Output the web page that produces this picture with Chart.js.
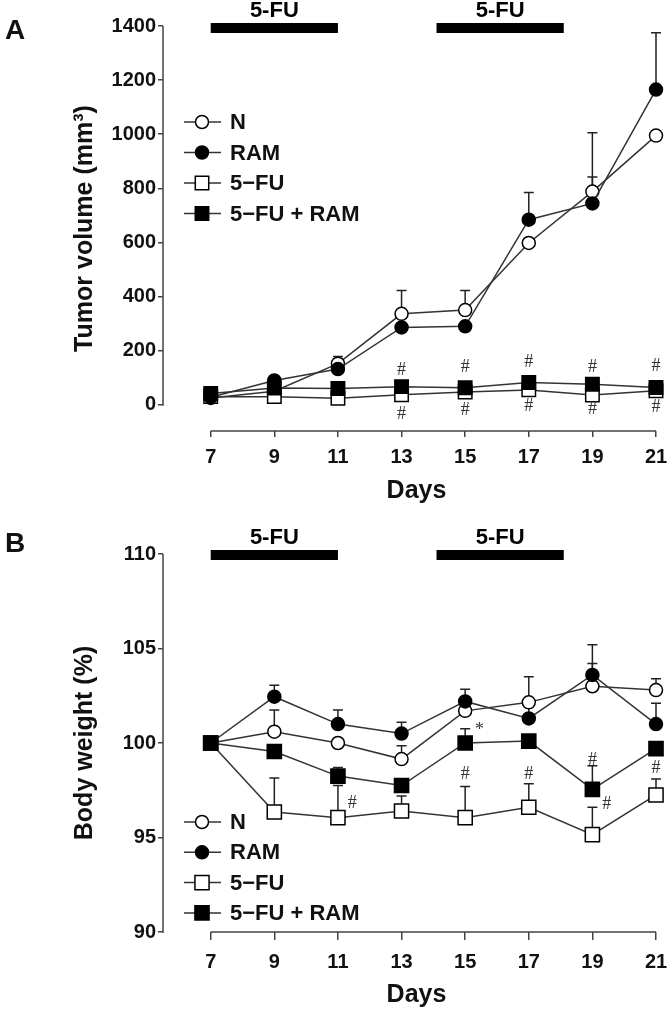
<!DOCTYPE html>
<html><head><meta charset="utf-8">
<script src="https://cdn.jsdelivr.net/npm/chart.js@4.4.1/dist/chart.umd.min.js"></script>
<style>
html,body{margin:0;padding:0;background:#fff;}
#wrap{position:relative;width:670px;height:1014px;overflow:hidden;background:#fff;}
canvas{position:absolute;left:0;}
.pl{position:absolute;font:bold 28px "Liberation Sans",Arial,sans-serif;line-height:28px;color:#111;}
</style></head><body>
<div id="wrap">
<canvas id="cA" width="670" height="506" style="top:0px"></canvas>
<canvas id="cB" width="670" height="514" style="top:500px"></canvas>
<div class="pl" style="left:5px;top:16px">A</div>
<div class="pl" style="left:5px;top:529px">B</div>
</div>
<script>
// ---------- data ----------
const days = [7, 9, 11, 13, 15, 17, 19, 21];
const seriesLabels = ['N', 'RAM', '5\u2212FU', '5\u2212FU + RAM'];
const treatmentLabel = '5-FU';
const treatmentStart = [7, 14.1];
const treatmentEnd = [11, 18.1];

// Panel A: tumor volume (mm3)
const volN     = [25, 50, 152, 336, 350, 598, 788, 995];
const volRAM   = [28, 90, 132, 286, 290, 684, 744, 1165];
const volFU    = [30, 30, 24, 37, 47, 55, 36, 52];
const volFURAM = [42, 62, 60, 67, 63, 82, 76, 64];
const volErrN     = [null, null, 178, 422, 422, null, 1005, null];
const volErrRAM   = [null, null, null, null, null, 785, 842, 1375];
const volErrFU    = [null, null, null, null, null, null, null, null];
const volErrFURAM = [null, null, null, null, null, null, null, null];
const volTicks = [0, 200, 400, 600, 800, 1000, 1200, 1400];
const annAx = [13, 15, 17, 19, 21, 13, 15, 17, 19, 21];
const annAy = [127, 138, 157, 138, 143, -35, -19, -7, -15, -10];
const annAt = ['#', '#', '#', '#', '#', '#', '#', '#', '#', '#'];

// Panel B: body weight (%)
const bwN     = [100, 100.6, 100.0, 99.15, 101.7, 102.15, 103.0, 102.8];
const bwRAM   = [100, 102.45, 101.0, 100.5, 102.2, 101.3, 103.6, 101.0];
const bwFU    = [100, 96.35, 96.05, 96.4, 96.05, 96.6, 95.15, 97.25];
const bwFURAM = [100, 99.55, 98.25, 97.75, 100.0, 100.1, 97.55, 99.7];
const bwErrN     = [null, 101.75, null, 99.85, null, 103.5, 104.2, 103.4];
const bwErrRAM   = [null, 103.05, 101.75, 101.1, 102.85, 102.3, 105.2, 102.1];
const bwErrFU    = [null, 98.15, 97.75, 97.2, 97.7, 97.85, 96.6, 98.1];
const bwErrFURAM = [null, null, 98.7, null, 100.75, null, 98.8, null];
const bwTicks = [90, 95, 100, 105, 110];
const annBx = [11.45, 15.45, 15, 17, 19, 19.45, 21];
const annBy = [96.8, 100.65, 98.35, 98.35, 99.1, 96.75, 98.65];
const annBt = ['#', '*', '#', '#', '#', '#', '#'];

// ---------- drawing ----------
const FONT = '"Liberation Sans", Arial, sans-serif';
const styles = [
  {style: 'circle', fill: '#ffffff', order: 3},
  {style: 'circle', fill: '#000000', order: 1},
  {style: 'rect',   fill: '#ffffff', order: 2},
  {style: 'rect',   fill: '#000000', order: 0}
];

function panelPlugin(cfg) {
  return {
    id: 'panel' + cfg.name,
    beforeDatasetsDraw(chart) {
      const {ctx, chartArea, scales: {x, y}} = chart;
      ctx.save();
      ctx.strokeStyle = '#444';
      ctx.lineWidth = 1.5;
      ctx.beginPath();
      ctx.moveTo(chartArea.left, y.getPixelForValue(cfg.yTicks[0]) + 1);
      ctx.lineTo(chartArea.left, y.getPixelForValue(cfg.yTicks[cfg.yTicks.length - 1]));
      ctx.moveTo(x.getPixelForValue(days[0]), chartArea.bottom);
      ctx.lineTo(x.getPixelForValue(days[days.length - 1]), chartArea.bottom);
      ctx.stroke();
      // error bars
      ctx.strokeStyle = '#222';
      chart.data.datasets.forEach(ds => {
        (ds.errTop || []).forEach((e, i) => {
          if (e == null) return;
          const px = x.getPixelForValue(days[i]);
          const p0 = y.getPixelForValue(ds.data[i].y);
          const p1 = y.getPixelForValue(e);
          ctx.beginPath();
          ctx.moveTo(px, p0); ctx.lineTo(px, p1);
          ctx.moveTo(px - 5, p1); ctx.lineTo(px + 5, p1);
          ctx.stroke();
        });
      });
      ctx.restore();
    },
    afterDatasetsDraw(chart) {
      const {ctx, chartArea, scales: {x, y}} = chart;
      ctx.save();
      // treatment bars
      ctx.fillStyle = '#000';
      ctx.textAlign = 'center';
      ctx.textBaseline = 'middle';
      ctx.font = 'bold 22px ' + FONT;
      treatmentStart.forEach((s, i) => {
        const x0 = x.getPixelForValue(s), x1 = x.getPixelForValue(treatmentEnd[i]);
        const yc = chartArea.top + cfg.barOffset;
        ctx.fillRect(x0, yc - 5, x1 - x0, 10);
        ctx.fillText(treatmentLabel, (x0 + x1) / 2, yc - 17);
      });
      // annotations
      ctx.fillStyle = '#333';
      ctx.font = '18px "Liberation Serif", "Times New Roman", serif';
      cfg.annX.forEach((ax, i) => {
        ctx.fillText(cfg.annT[i], x.getPixelForValue(ax), y.getPixelForValue(cfg.annY[i]));
      });
      // legend
      ctx.textAlign = 'left';
      ctx.font = 'bold 22px ' + FONT;
      chart.data.datasets.forEach((ds, i) => {
        const ly = cfg.legY + i * cfg.legDy;
        const lx = cfg.legX;
        ctx.strokeStyle = ds.borderColor;
        ctx.lineWidth = 1.5;
        ctx.beginPath();
        ctx.moveTo(lx - 18, ly); ctx.lineTo(lx + 19, ly);
        ctx.stroke();
        ctx.fillStyle = ds.pointBackgroundColor;
        ctx.strokeStyle = ds.pointBorderColor;
        ctx.lineWidth = ds.pointBorderWidth;
        Chart.helpers.drawPoint(ctx, {pointStyle: ds.pointStyle, radius: ds.pointRadius, borderWidth: ds.pointBorderWidth, rotation: 0}, lx, ly);
        ctx.fillStyle = '#111';
        ctx.fillText(ds.label, lx + 28, ly + 1);
      });
      ctx.restore();
    }
  };
}

function makeChart(id, values, errs, cfg) {
  const datasets = values.map((vals, k) => ({
    label: seriesLabels[k],
    data: days.map((d, i) => ({x: d, y: vals[i]})),
    errTop: errs[k],
    showLine: true,
    borderColor: '#333',
    borderWidth: 1.5,
    pointStyle: styles[k].style,
    pointRadius: styles[k].style === 'rect' ? cfg.rectR : cfg.circR,
    pointBackgroundColor: styles[k].fill,
    pointBorderColor: '#000',
    pointBorderWidth: 1.5,
    order: styles[k].order,
    clip: false,
    tension: 0
  }));
  return new Chart(document.getElementById(id), {
    type: 'scatter',
    data: {datasets},
    options: {
      responsive: false, animation: false, devicePixelRatio: 1,
      layout: {padding: cfg.padding, autoPadding: false},
      plugins: {legend: {display: false}, tooltip: {enabled: false}},
      scales: {
        x: {
          type: 'linear', min: 5.5, max: 21.44,
          afterBuildTicks: sc => { sc.ticks = days.map(v => ({value: v})); },
          afterFit: sc => { sc.height = cfg.xHeight; sc.paddingLeft = 0; sc.paddingRight = 0; },
          grid: {drawOnChartArea: false, drawTicks: true, tickLength: cfg.xTick, color: '#444', lineWidth: 1.5},
          border: {display: false},
          ticks: {padding: cfg.xPad, color: '#111', maxRotation: 0, autoSkip: false,
                  font: {family: FONT, size: 20, weight: 'bold'}},
          title: {display: true, text: 'Days', color: '#111', padding: 0,
                  font: {family: FONT, size: 25, weight: 'bold'}}
        },
        y: {
          type: 'linear', min: cfg.yMin, max: cfg.yMax,
          afterBuildTicks: sc => { sc.ticks = cfg.yTicks.map(v => ({value: v})); },
          afterFit: sc => { sc.width = 93; sc.paddingTop = 0; sc.paddingBottom = 0; },
          grid: {drawOnChartArea: false, drawTicks: true, tickLength: 5, color: '#444', lineWidth: 1.5},
          border: {display: false},
          ticks: {padding: 2, color: '#111', font: {family: FONT, size: 20, weight: 'bold'},
                  callback: v => String(v)},
          title: {display: true, text: cfg.yTitle, color: '#111', padding: 0,
                  font: {family: FONT, size: 25, weight: 'bold'}}
        }
      }
    },
    plugins: [panelPlugin(cfg)]
  });
}

makeChart('cA', [volN, volRAM, volFU, volFURAM], [volErrN, volErrRAM, volErrFU, volErrFURAM], {
  name: 'A', yMin: -97, yMax: 1400, yTicks: volTicks, yTitle: 'Tumor volume (mm\u00B3)',
  padding: {left: 70, top: 26, right: 0, bottom: 0}, xHeight: 75, xTick: 6, xPad: 8,
  circR: 6.5, rectR: 9.5, barOffset: 2,
  annX: annAx, annY: annAy, annT: annAt,
  legX: 202, legY: 122, legDy: 30.5
});
makeChart('cB', [bwN, bwRAM, bwFU, bwFURAM], [bwErrN, bwErrRAM, bwErrFU, bwErrFURAM], {
  name: 'B', yMin: 90, yMax: 110, yTicks: bwTicks, yTitle: 'Body weight (%)',
  padding: {left: 70, top: 54, right: 0, bottom: 4}, xHeight: 78, xTick: 8, xPad: 10,
  circR: 6.5, rectR: 10, barOffset: 1,
  annX: annBx, annY: annBy, annT: annBt,
  legX: 202, legY: 322, legDy: 30.3
});
</script>
</body></html>
